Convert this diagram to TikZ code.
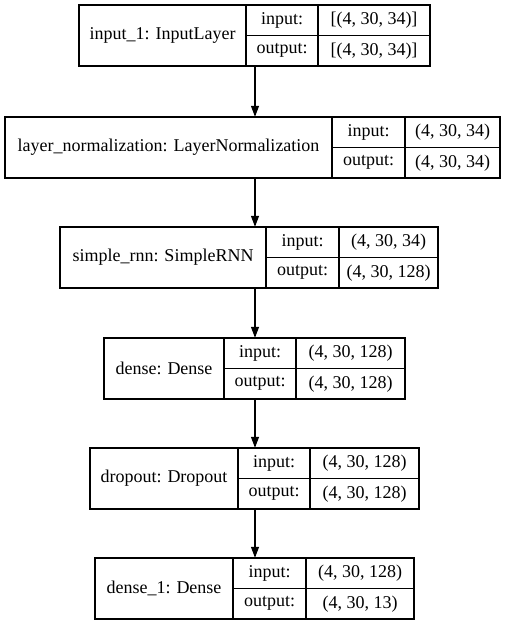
\documentclass[tikz,border=0pt]{standalone}
\usepackage{fontspec}
\setmainfont{Liberation Serif}
\usetikzlibrary{arrows.meta}

\tikzset{
  cell/.style={draw, line width=1.2pt, inner sep=0pt, font=\fontsize{18}{20}\selectfont},
  frame/.style={draw=none, inner sep=0pt},
  flow/.style={line width=1.2pt, -{Triangle[length=11pt,width=8pt]}}
}

% one Keras layer: id, top, x0, x1, x2, x3, name, input shape, output shape
\newcommand{\layerbox}[9]{%
  \node[frame, minimum width={#6-#3}, minimum height=61] (#1) at ({(#3+#6)/2},{#2+30.5}) {};
  \node[cell, minimum width={#4-#3}, minimum height=61] (#1-name) at ({(#3+#4)/2},{#2+30.5}) {#7};
  \node[cell, minimum width={#5-#4}, minimum height=30.5] (#1-il) at ({(#4+#5)/2},{#2+15.25}) {input:};
  \node[cell, minimum width={#5-#4}, minimum height=30.5] (#1-ol) at ({(#4+#5)/2},{#2+45.75}) {output:};
  \node[cell, minimum width={#6-#5}, minimum height=30.5] (#1-iv) at ({(#5+#6)/2},{#2+15.25}) {#8};
  \node[cell, minimum width={#6-#5}, minimum height=30.5] (#1-ov) at ({(#5+#6)/2},{#2+45.75}) {#9};
}

\begin{document}
\begin{tikzpicture}[x=1pt,y=-1pt]
  \useasboundingbox (0,0) rectangle (509,627);
  \coordinate (axis) at (255,0);

  % Layers
  \layerbox{input}{5}{79}{246}{318}{430}{input\_1: InputLayer}{[(4, 30, 34)]}{[(4, 30, 34)]}
  \layerbox{norm}{117}{5}{332}{405}{500}{layer\_normalization: LayerNormalization}{(4, 30, 34)}{(4, 30, 34)}
  \layerbox{rnn}{227}{60}{266}{339}{438}{simple\_rnn: SimpleRNN}{(4, 30, 34)}{(4, 30, 128)}
  \layerbox{dense}{338}{104}{224}{296}{405}{dense: Dense}{(4, 30, 128)}{(4, 30, 128)}
  \layerbox{drop}{448}{90}{238}{310}{419}{dropout: Dropout}{(4, 30, 128)}{(4, 30, 128)}
  \layerbox{out}{558}{95}{233}{306}{414}{dense\_1: Dense}{(4, 30, 128)}{(4, 30, 13)}

  % Connectors
  \draw[flow] (input.south -| axis) -- (norm.north -| axis);
  \draw[flow] (norm.south -| axis) -- (rnn.north -| axis);
  \draw[flow] (rnn.south -| axis) -- (dense.north -| axis);
  \draw[flow] (dense.south -| axis) -- (drop.north -| axis);
  \draw[flow] (drop.south -| axis) -- (out.north -| axis);
\end{tikzpicture}
\end{document}
